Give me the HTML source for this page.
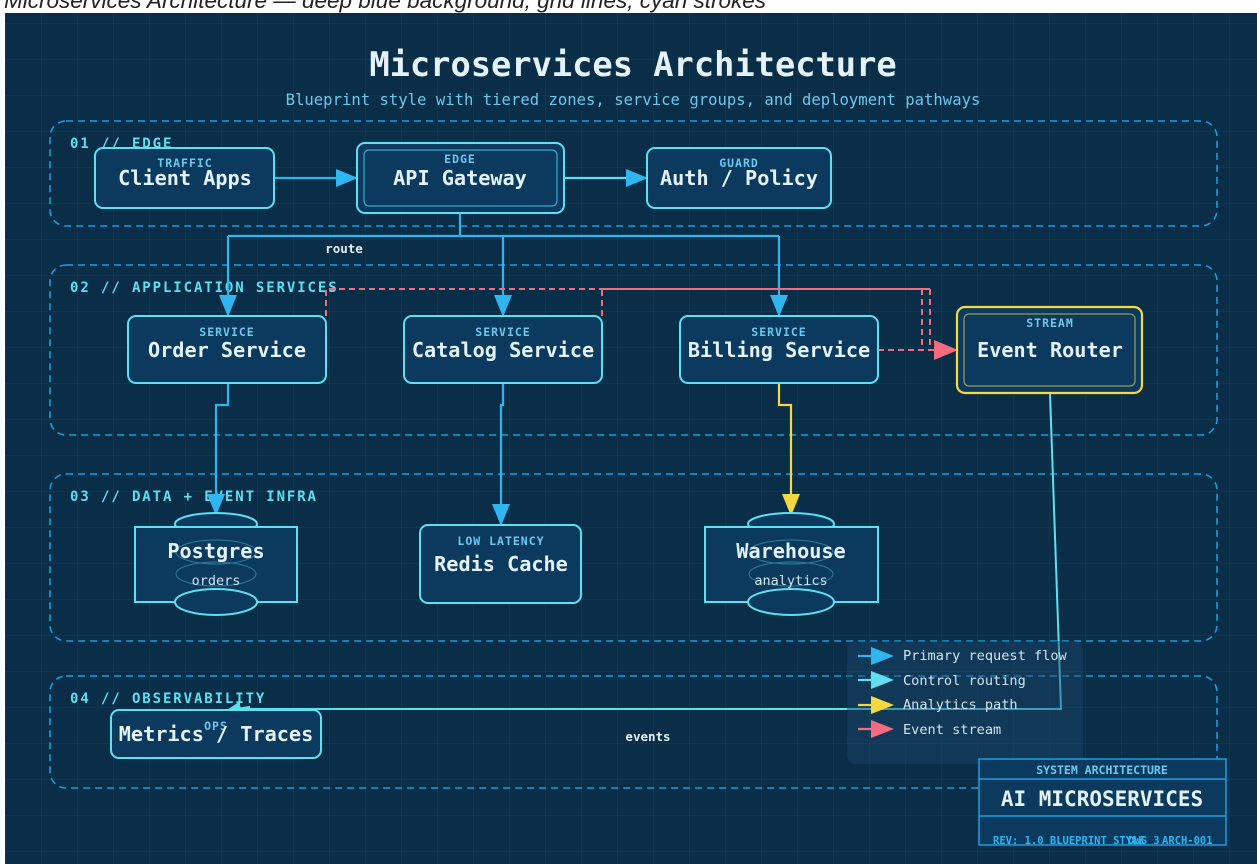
<!DOCTYPE html>
<html><head><meta charset="utf-8"><style>
html,body{margin:0;padding:0;background:#fff;width:1257px;height:864px;overflow:hidden}
.cap{position:absolute;left:4px;top:-12px;font:italic 22.5px "Liberation Sans",sans-serif;color:#222;white-space:nowrap}
svg{position:absolute;left:0;top:0}
text{font-family:"DejaVu Sans Mono","Liberation Mono",monospace}
</style></head><body>
<div class="cap">Microservices Architecture — deep blue background, grid lines, cyan strokes</div>
<svg width="1257" height="864" viewBox="0 0 1257 864">
<defs>
<pattern id="g" x="5" y="23" width="36" height="36" patternUnits="userSpaceOnUse">
<path d="M0 0H36M0 0V36" stroke="#123f5e" stroke-width="1" fill="none"/>
</pattern>
<marker id="ac" markerWidth="16" markerHeight="14" refX="15" refY="7" orient="auto" markerUnits="userSpaceOnUse"><path d="M0 0L16 7L0 14z" fill="#5ee0f0"/></marker>
<marker id="ay" markerWidth="22" markerHeight="18" refX="21" refY="9" orient="auto" markerUnits="userSpaceOnUse"><path d="M0 0L22 9L0 18z" fill="#f8d840"/></marker>
<marker id="ar" markerWidth="24" markerHeight="20" refX="23" refY="10" orient="auto" markerUnits="userSpaceOnUse"><path d="M0 0L24 10L0 20z" fill="#f26b7e"/></marker>
<marker id="ab2" markerWidth="22" markerHeight="18" refX="21" refY="9" orient="auto" markerUnits="userSpaceOnUse"><path d="M0 0L22 9L0 18z" fill="#2fb5f0"/></marker>
</defs>
<rect x="5" y="13" width="1252" height="851" fill="#0a2d48"/>
<rect x="5" y="13" width="1252" height="851" fill="url(#g)"/>
<text x="633" y="76" text-anchor="middle" font-size="33.7" font-weight="bold" fill="#e4f2fb">Microservices Architecture</text>
<text x="633" y="105" text-anchor="middle" font-size="15.6" fill="#6cc8ee">Blueprint style with tiered zones, service groups, and deployment pathways</text>
<g fill="none" stroke="#1a9ee0" stroke-width="1.6" stroke-dasharray="7 5">
<rect x="50" y="121" width="1167" height="105" rx="16"/>
<rect x="50" y="265" width="1167" height="170" rx="16"/>
<rect x="50" y="474" width="1167" height="167" rx="16"/>
<rect x="50" y="676" width="1167" height="112" rx="16"/>
</g>
<g font-size="14" font-weight="bold" fill="#5ee0f0" letter-spacing="1.9">
<text x="70" y="148">01 // EDGE</text>
<text x="70" y="292">02 // APPLICATION SERVICES</text>
<text x="70" y="501">03 // DATA + EVENT INFRA</text>
<text x="70" y="703">04 // OBSERVABILITY</text>
</g>
<g fill="none" stroke-width="2.2">
<path d="M274 178H357" stroke="#2fb5f0" marker-end="url(#ab2)"/>
<path d="M564 178H647" stroke="#5ee0f0" marker-end="url(#ab2)"/>
<path d="M460 213V236M228 236H779" stroke="#2fb5f0"/>
<path d="M228 236V316" stroke="#2fb5f0" marker-end="url(#ab2)"/>
<path d="M503 236V316" stroke="#2fb5f0" marker-end="url(#ab2)"/>
<path d="M779 236V316" stroke="#2fb5f0" marker-end="url(#ab2)"/>
<path d="M228 383V405H216V515" stroke="#2fb5f0" marker-end="url(#ab2)"/>
<path d="M503 383V405H501V525" stroke="#2fb5f0" marker-end="url(#ab2)"/>
<path d="M779 383V405H791V515" stroke="#f8d840" marker-end="url(#ay)"/>
<path d="M1050 393L1061 709H238" stroke="#5ee0f0" stroke-width="2"/>
<path d="M250 707L226 711" stroke="#5ee0f0" marker-end="url(#ac)"/>
</g>
<g fill="none" stroke="#f26b7e" stroke-width="2" stroke-dasharray="6 4">
<path d="M326 316V289H930"/>
<path d="M602 316V289"/>
<path d="M922 289V345M930 289V345"/>
<path d="M878 350H957" marker-end="url(#ar)"/>
</g>
<path d="M602 289H930" stroke="#f26b7e" stroke-width="2"/>
<text x="344" y="253" font-size="12.5" font-weight="bold" fill="#e4f2fb" text-anchor="middle">route</text>
<text x="648" y="741" font-size="12.5" font-weight="bold" fill="#e4f2fb" text-anchor="middle">events</text>
<g fill="#0c3a5e" stroke="#5ee0f0" stroke-width="2">
<rect x="95" y="148" width="179" height="60" rx="8"/>
<rect x="357" y="143" width="207" height="70" rx="8"/>
<rect x="647" y="148" width="184" height="60" rx="8"/>
<rect x="128" y="316" width="198" height="67" rx="8"/>
<rect x="404" y="316" width="198" height="67" rx="8"/>
<rect x="680" y="316" width="198" height="67" rx="8"/>
<rect x="420" y="525" width="161" height="78" rx="8"/>
<rect x="111" y="710" width="210" height="48" rx="8"/>
</g>
<rect x="364" y="150" width="193" height="56" rx="5" fill="none" stroke="#3aa8c8" stroke-width="1.2"/>
<rect x="957" y="307" width="185" height="86" rx="8" fill="#0c3a5e" stroke="#f8d840" stroke-width="2.2"/>
<rect x="964" y="314" width="171" height="72" rx="5" fill="none" stroke="#9a9a50" stroke-width="1.2"/>
<g stroke="#5ee0f0" stroke-width="2" fill="#0c3a5e">
<ellipse cx="216" cy="524" rx="41" ry="11"/>
<rect x="135" y="527" width="162" height="75"/>
<ellipse cx="216" cy="602" rx="41" ry="13"/>
<ellipse cx="791" cy="524" rx="43" ry="11"/>
<rect x="705" y="527" width="173" height="75"/>
<ellipse cx="791" cy="602" rx="43" ry="13"/>
</g>
<g fill="none" stroke="#2f7a98" stroke-width="1">
<ellipse cx="216" cy="552" rx="40" ry="12"/><ellipse cx="216" cy="574" rx="40" ry="12"/>
<ellipse cx="791" cy="552" rx="42" ry="12"/><ellipse cx="791" cy="574" rx="42" ry="12"/>
</g>
<g text-anchor="middle">
<g font-size="11.5" font-weight="bold" fill="#6cc8ee" letter-spacing="1">
<text x="185" y="167">TRAFFIC</text><text x="460" y="163">EDGE</text><text x="739" y="167">GUARD</text>
<text x="227" y="336">SERVICE</text><text x="503" y="336">SERVICE</text><text x="779" y="336">SERVICE</text>
<text x="1050" y="327">STREAM</text><text x="501" y="545">LOW LATENCY</text><text x="216" y="730">OPS</text>
</g>
<g font-size="20.2" font-weight="bold" fill="#e4f2fb">
<text x="185" y="185">Client Apps</text><text x="460" y="185">API Gateway</text><text x="739" y="185">Auth / Policy</text>
<text x="227" y="357">Order Service</text><text x="503" y="357">Catalog Service</text><text x="779" y="357">Billing Service</text>
<text x="1050" y="357">Event Router</text>
<text x="216" y="558">Postgres</text><text x="501" y="571">Redis Cache</text><text x="791" y="558">Warehouse</text>
<text x="216" y="741">Metrics / Traces</text>
</g>
<g font-size="13.5" fill="#cfe6f2"><text x="216" y="585">orders</text><text x="791" y="585">analytics</text></g>
</g>
<rect x="847" y="641" width="236" height="123" rx="8" fill="#1a4868" fill-opacity="0.45"/>
<g stroke-width="2.2">
<path d="M858 656H875" stroke="#2fb5f0"/><path d="M871 647L894 656L871 665z" fill="#2fb5f0"/>
<path d="M858 680H875" stroke="#5ee0f0"/><path d="M871 671L894 680L871 689z" fill="#5ee0f0"/>
<path d="M858 705H875" stroke="#f8d840"/><path d="M871 696L894 705L871 714z" fill="#f8d840"/>
<path d="M858 729H875" stroke="#f26b7e"/><path d="M871 720L894 729L871 738z" fill="#f26b7e"/>
</g>
<g font-size="13.6" fill="#cfe6f2"><text x="903" y="660">Primary request flow</text><text x="903" y="685">Control routing</text><text x="903" y="709">Analytics path</text><text x="903" y="734">Event stream</text></g>
<rect x="979" y="759" width="247" height="86" fill="#0c3a5e" stroke="#1a9ee0" stroke-width="1.5"/>
<path d="M979 779H1226M979 816H1226" stroke="#1a9ee0" stroke-width="1.5"/>
<g text-anchor="middle" font-weight="bold">
<text x="1102" y="774" font-size="11.5" fill="#6cc8ee">SYSTEM ARCHITECTURE</text>
<text x="1102" y="806" font-size="21" fill="#e4f2fb">AI MICROSERVICES</text>
</g>
<g font-size="10.5" font-weight="bold" fill="#2fb5f0"><text x="993" y="844">REV: 1.0 BLUEPRINT STYLE</text><text x="1128" y="844">DWG 3</text><text x="1162" y="844">ARCH-001</text></g>
</svg>
</body></html>
